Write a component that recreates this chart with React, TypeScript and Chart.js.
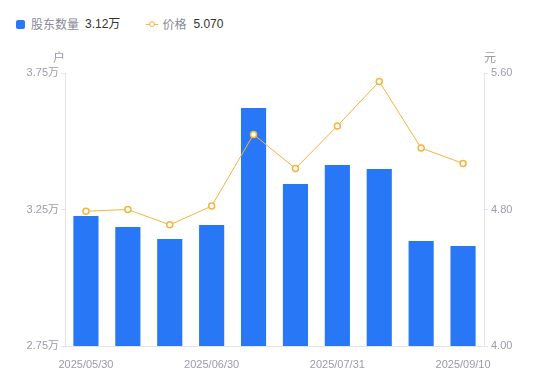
import React, { useEffect, useRef } from "react";
import { Chart, registerables } from "chart.js";

Chart.register(...registerables);

const dates = [
  "2025/05/30", "2025/06/10", "2025/06/20", "2025/06/30", "2025/07/10",
  "2025/07/20", "2025/07/31", "2025/08/15", "2025/08/31", "2025/09/10",
];
const holders = [32260, 31860, 31420, 31930, 36220, 33430, 34130, 33980, 31350, 31160];
const prices = [4.79, 4.80, 4.71, 4.82, 5.24, 5.04, 5.29, 5.55, 5.16, 5.07];
const leftTicks = [27500, 32500, 37500];
const rightTicks = [4.0, 4.8, 5.6];

const FONT = "'Liberation Sans', Arial, 'Noto Sans CJK SC', sans-serif";
const TICK_COLOR = "#9b9bab";
const AXIS_COLOR = "#e3e3e8";
const BAR_COLOR = "#2777f6";
const LINE_COLOR = "#f7b33a";

const unitPlugin = {
  id: "units",
  afterDraw(chart: any) {
    const { ctx, chartArea } = chart;
    ctx.save();
    ctx.font = `12px 'Noto Sans CJK SC', sans-serif`;
    ctx.fillStyle = TICK_COLOR;
    ctx.textBaseline = "middle";
    ctx.textAlign = "center";
    ctx.fillText("户", chartArea.left - 6, 57);
    ctx.fillText("元", chartArea.right + 6, 57);
    ctx.restore();
  },
};

export default function App() {
  const ref = useRef<HTMLCanvasElement>(null);
  useEffect(() => {
    if (!ref.current) return;
    const chart = new Chart(ref.current, {
      data: {
        labels: dates,
        datasets: [
          {
            type: "line",
            label: "价格",
            data: prices,
            yAxisID: "y1",
            borderColor: LINE_COLOR,
            borderWidth: 1,
            pointRadius: 3,
            pointBorderWidth: 1.5,
            pointBackgroundColor: "#ffffff",
            pointBorderColor: LINE_COLOR,
            tension: 0,
            order: 0,
          },
          {
            type: "bar",
            label: "股东数量",
            data: holders,
            yAxisID: "y",
            backgroundColor: BAR_COLOR,
            barPercentage: 0.6,
            categoryPercentage: 1,
            order: 1,
          },
        ],
      } as any,
      options: {
        animation: false,
        responsive: false,
        maintainAspectRatio: false,
        layout: { padding: { top: 73, left: 0, right: 0, bottom: 0 } },
        plugins: { legend: { display: false }, tooltip: { enabled: false } },
        scales: {
          x: {
            grid: { display: false },
            border: { color: AXIS_COLOR },
            afterFit(scale: any) { scale.height = 35; },
            ticks: {
              autoSkip: false,
              maxRotation: 0,
              padding: 4,
              color: TICK_COLOR,
              font: { family: FONT, size: 11 },
              callback(_v: any, i: number) {
                return i % 3 === 0 ? dates[i] : "";
              },
            },
          },
          y: {
            position: "left",
            min: 27500,
            max: 37500,
            afterFit(scale: any) { scale.width = 65; },
            afterBuildTicks(scale: any) { scale.ticks = leftTicks.map((v) => ({ value: v })); },
            grid: { drawOnChartArea: false, color: AXIS_COLOR, tickLength: 4 },
            border: { color: AXIS_COLOR },
            ticks: {
              color: TICK_COLOR,
              padding: 2,
              font: { family: FONT, size: 11 },
              callback(v: any) { return (Number(v) / 10000).toFixed(2) + "万"; },
            },
          },
          y1: {
            position: "right",
            min: 4,
            max: 5.6,
            afterFit(scale: any) { scale.width = 66; },
            afterBuildTicks(scale: any) { scale.ticks = rightTicks.map((v) => ({ value: v })); },
            grid: { drawOnChartArea: false, color: AXIS_COLOR, tickLength: 4 },
            border: { color: AXIS_COLOR },
            ticks: {
              color: TICK_COLOR,
              padding: 3,
              font: { family: FONT, size: 11 },
              callback(v: any) { return Number(v).toFixed(2); },
            },
          },
        },
      } as any,
      plugins: [unitPlugin],
    });
    return () => chart.destroy();
  }, []);

  return (
    <div style={{ position: "fixed", left: 0, top: 0, width: 550, height: 381, background: "#fff" }}>
      <div
        style={{
          position: "absolute", left: 16, top: 15, height: 18, display: "flex", alignItems: "center",
          fontFamily: "'Noto Sans CJK SC', sans-serif", fontSize: 12, lineHeight: "18px",
        }}
      >
        <span style={{ display: "inline-block", width: 9, height: 9, background: BAR_COLOR, borderRadius: 2, marginRight: 6 }} />
        <span style={{ color: "#8a8a99" }}>股东数量</span>
        <span style={{ color: "#333", marginLeft: 6, fontFamily: FONT }}>3.12万</span>
        <span style={{ position: "relative", display: "inline-block", width: 12, height: 9, marginLeft: 26, marginRight: 4 }}>
          <span style={{ position: "absolute", left: 0, top: 4, width: 12, height: 1.5, background: LINE_COLOR }} />
          <span style={{ position: "absolute", left: 2.5, top: 1, width: 4, height: 4, borderRadius: "50%", border: `1.5px solid ${LINE_COLOR}`, background: "#fff" }} />
        </span>
        <span style={{ color: "#8a8a99" }}>价格</span>
        <span style={{ color: "#333", marginLeft: 7, fontFamily: FONT }}>5.070</span>
      </div>
      <canvas ref={ref} width={550} height={381} style={{ position: "absolute", left: 0, top: 0 }} />
    </div>
  );
}
